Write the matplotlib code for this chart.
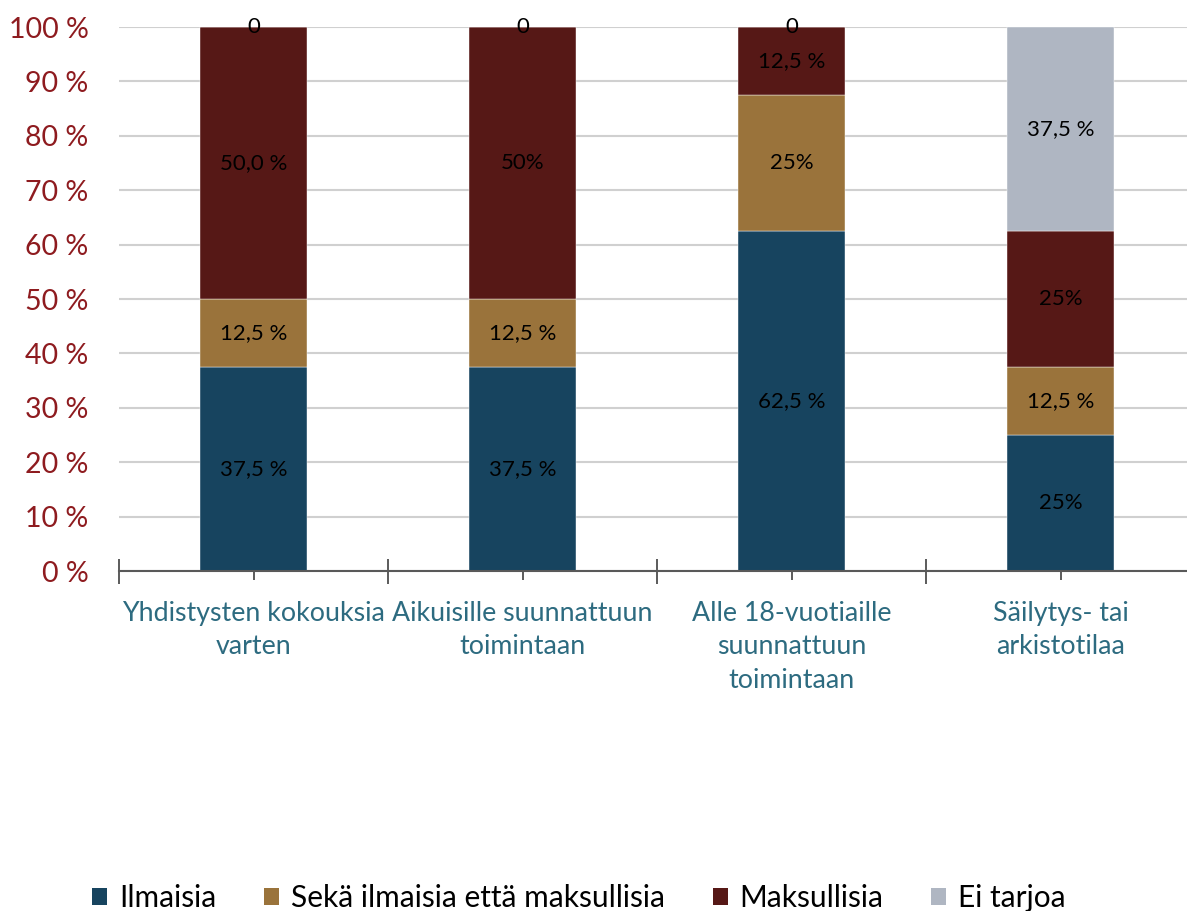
import matplotlib
matplotlib.use("Agg")
import matplotlib.pyplot as plt
import numpy as np
from matplotlib.patches import Patch

categories = ["Yhdistysten kokouksia\nvarten", "Aikuisille suunnattuun\ntoimintaan",
              "Alle 18-vuotiaille\nsuunnattuun\ntoimintaan", "Säilytys- tai\narkistotilaa"]
series_names = ["Ilmaisia", "Sekä ilmaisia että maksullisia", "Maksullisia", "Ei tarjoa"]
ilmaisia = [37.5, 37.5, 62.5, 25.0]
seka = [12.5, 12.5, 25.0, 12.5]
maksullisia = [50.0, 50.0, 12.5, 25.0]
ei_tarjoa = [0.0, 0.0, 0.0, 37.5]
labels_ilmaisia = ["37,5 %", "37,5 %", "62,5 %", "25%"]
labels_seka = ["12,5 %", "12,5 %", "25%", "12,5 %"]
labels_maksullisia = ["50,0 %", "50%", "12,5 %", "25%"]
labels_ei = ["0", "0", "0", "37,5 %"]
y_ticks = [0, 10, 20, 30, 40, 50, 60, 70, 80, 90, 100]
y_tick_labels = [f"{v} %" for v in y_ticks]

colors = ["#17445F", "#9A733B", "#561816", "#AFB6C2"]
font = ["Lato", "DejaVu Sans"]
plt.rcParams["font.family"] = font

fig = plt.figure(figsize=(11.87, 9.11), dpi=100)
ax = fig.add_axes([119/1187, 1-571/911, (1195-119)/1187, (571-27)/911])

x = np.arange(len(categories))
bottom = np.zeros(len(categories))
all_vals = [ilmaisia, seka, maksullisia, ei_tarjoa]
all_labels = [labels_ilmaisia, labels_seka, labels_maksullisia, labels_ei]
for vals, labs, col, name in zip(all_vals, all_labels, colors, series_names):
    vals = np.array(vals)
    bars = ax.bar(x, vals, width=0.4, bottom=bottom, color=col, label=name, zorder=3,
                  edgecolor="#FFFFFF", linewidth=0.3)
    ax.bar_label(bars, labels=labs, label_type="center", fontsize=16, color="black", zorder=4)
    bottom = bottom + vals

ax.set_xlim(-0.5, 3.5)
ax.set_ylim(0, 100)
ax.set_yticks(y_ticks, y_tick_labels)
ax.tick_params(axis="y", length=0, pad=22, labelsize=20.5, labelcolor="#8E1B1F")
ax.yaxis.grid(True, color="#D0D0D0", linewidth=1.5, zorder=0)
ax.set_axisbelow(True)

ax.set_xticks(np.arange(-0.5, 4.0, 1.0))
ax.set_xticklabels([])
ax.set_xticks(x, categories, minor=True)
ax.tick_params(axis="x", which="major", direction="inout", length=18, width=1.2, color="#404040")
ax.tick_params(axis="x", which="minor", direction="inout", length=13, width=1.2, color="#404040",
               labelsize=19.3, labelcolor="#2D6B80", pad=15)
for t in ax.get_xticklabels(minor=True):
    t.set_linespacing(1.42)

for s in ["top", "right", "left"]:
    ax.spines[s].set_visible(False)
ax.spines["bottom"].set_color("#595959")
ax.spines["bottom"].set_linewidth(1.5)
ax.spines["bottom"].set_zorder(5)

handles = [Patch(facecolor=c, edgecolor="none") for c in colors]
fig.legend(handles, series_names, loc="center", bbox_to_anchor=(579/1187, 1-898/911), ncol=4,
           frameon=False, prop={"family": ["Lato", "DejaVu Sans"], "size": 21.5},
           handlelength=0.5, handleheight=0.5, handletextpad=0.4, columnspacing=1.6)

fig.savefig("out.png", dpi=100)
